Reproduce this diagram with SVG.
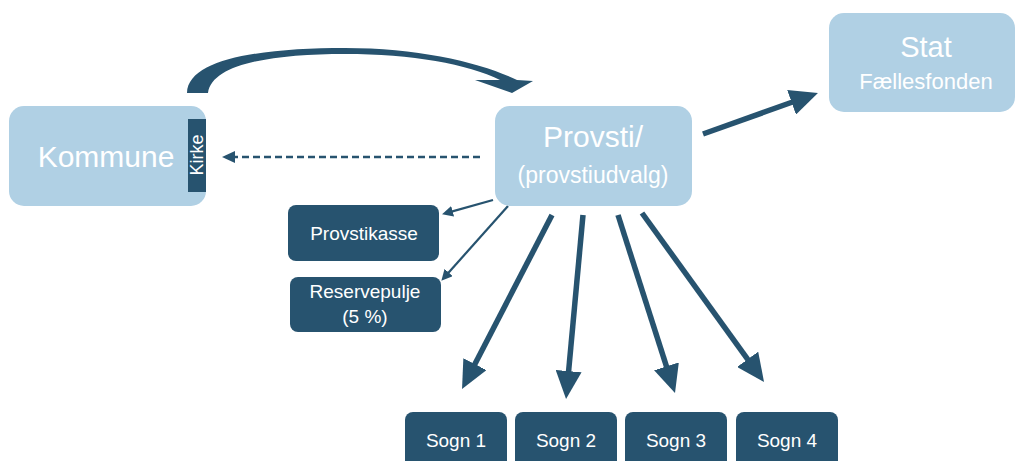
<svg xmlns="http://www.w3.org/2000/svg" width="1016" height="461" viewBox="0 0 1016 461">
<style>
.light{fill:#B0D0E4}
.dark{fill:#27536F}
.t{font-family:"Liberation Sans",Arial,sans-serif;fill:#fff;text-anchor:middle}
.big{stroke:#27536F;stroke-width:5.5;fill:none}
.thin{stroke:#27536F;stroke-width:2.2;fill:none}
.dash{stroke:#27536F;stroke-width:2.5;stroke-dasharray:7 4;fill:none}
</style>
<defs>
<marker id="bigHead" markerUnits="userSpaceOnUse" markerWidth="28" markerHeight="26" refX="10" refY="13" orient="auto">
<path d="M0,0 L28,13 L0,26 Z" fill="#27536F"/>
</marker>
<marker id="smallHead" markerUnits="userSpaceOnUse" markerWidth="11" markerHeight="11" refX="4" refY="5.5" orient="auto">
<path d="M0,0 L11,5.5 L0,11 Z" fill="#27536F"/>
</marker>
<marker id="dashHead" markerUnits="userSpaceOnUse" markerWidth="13" markerHeight="12" refX="5" refY="6" orient="auto">
<path d="M0,0 L13,6 L0,12 Z" fill="#27536F"/>
</marker>
</defs>
<g id="connectors">
<path class="dark" d="M187,93 C188,58 265,48 345,48 C420,48 482,63 517,80 L533,81 L512,93 L475,80 L500,80 C468,64 412,54 345,54 C272,54 212,64 208,93 Z"/>
<line class="dash" x1="480" y1="157" x2="230" y2="157" marker-end="url(#dashHead)"/>
<line class="big" x1="703" y1="134" x2="801" y2="99" marker-end="url(#bigHead)"/>
<line class="thin" x1="493" y1="200" x2="448.8" y2="212.4" marker-end="url(#smallHead)"/>
<line class="thin" x1="508" y1="206" x2="446" y2="275.5" marker-end="url(#smallHead)"/>
<line class="big" x1="552" y1="215" x2="470.3" y2="373" marker-end="url(#bigHead)"/>
<line class="big" x1="583" y1="215" x2="567.7" y2="381.1" marker-end="url(#bigHead)"/>
<line class="big" x1="618" y1="215" x2="669.5" y2="375.9" marker-end="url(#bigHead)"/>
<line class="big" x1="642" y1="213" x2="753.5" y2="367.4" marker-end="url(#bigHead)"/>
</g>
<g id="kommune">
<rect class="light" x="9" y="106" width="197" height="100" rx="15"/>
<text class="t" x="106" y="167" font-size="30">Kommune</text>
</g>
<g id="kirke">
<rect class="dark" x="188" y="119" width="18" height="73"/>
<text class="t" transform="translate(203,155) rotate(-90)" font-size="18">Kirke</text>
</g>
<g id="provsti">
<rect class="light" x="495" y="106" width="197" height="100" rx="15"/>
<text class="t" x="593" y="147" font-size="30">Provsti/</text>
<text class="t" x="593" y="183" font-size="23">(provstiudvalg)</text>
</g>
<g id="stat">
<rect class="light" x="829" y="13" width="186" height="99" rx="15"/>
<text class="t" x="926" y="57" font-size="29">Stat</text>
<text class="t" x="926" y="89" font-size="22">Fællesfonden</text>
</g>
<g id="provstikasse">
<rect class="dark" x="288" y="205" width="151" height="56" rx="8"/>
<text class="t" x="364" y="240" font-size="19">Provstikasse</text>
</g>
<g id="reservepulje">
<rect class="dark" x="290" y="277" width="151" height="55" rx="8"/>
<text class="t" x="365" y="298" font-size="19">Reservepulje</text>
<text class="t" x="365" y="323" font-size="19">(5 %)</text>
</g>
<g id="sogn1">
<rect class="dark" x="405" y="412" width="102" height="60" rx="8"/>
<text class="t" x="456" y="447" font-size="19">Sogn 1</text>
</g>
<g id="sogn2">
<rect class="dark" x="515" y="412" width="102" height="60" rx="8"/>
<text class="t" x="566" y="447" font-size="19">Sogn 2</text>
</g>
<g id="sogn3">
<rect class="dark" x="625" y="412" width="102" height="60" rx="8"/>
<text class="t" x="676" y="447" font-size="19">Sogn 3</text>
</g>
<g id="sogn4">
<rect class="dark" x="736" y="412" width="102" height="60" rx="8"/>
<text class="t" x="787" y="447" font-size="19">Sogn 4</text>
</g>
</svg>
